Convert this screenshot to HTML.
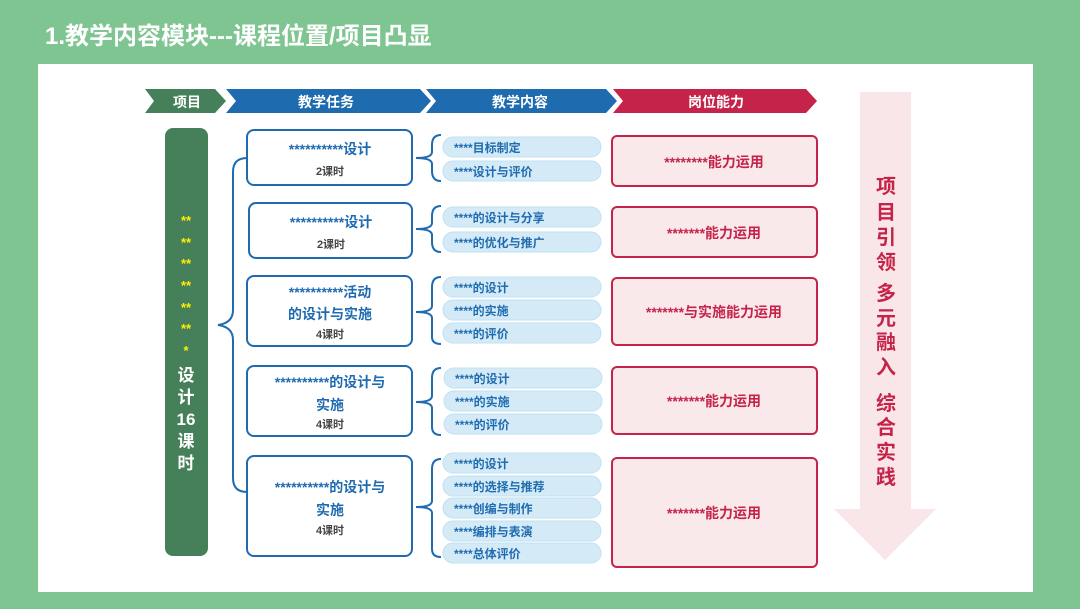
<!DOCTYPE html>
<html><head><meta charset="utf-8"><style>
html,body{margin:0;padding:0;width:1080px;height:609px;overflow:hidden;background:#7ec592}
svg text{font-family:"Liberation Sans","Noto Sans CJK SC",sans-serif;font-weight:bold}
</style></head><body>
<svg width="1080" height="609" viewBox="0 0 1080 609" xmlns="http://www.w3.org/2000/svg">
<rect width="1080" height="609" fill="#7ec592"/>
<text x="45" y="44" font-size="24" fill="#fff">1.教学内容模块---课程位置/项目凸显</text>
<rect x="38" y="64" width="995" height="528" fill="#fff"/>

<!-- header arrows -->
<polygon points="145,89 215,89 226,101 215,113 145,113 154,101" fill="#46805a"/>
<text x="187" y="107" font-size="14" fill="#fff" text-anchor="middle">项目</text>
<polygon points="226,89 420,89 431,101 420,113 226,113 236,101" fill="#1f6bb0"/>
<text x="326" y="107" font-size="14" fill="#fff" text-anchor="middle">教学任务</text>
<polygon points="426,89 606,89 617,101 606,113 426,113 436,101" fill="#1f6bb0"/>
<text x="520" y="107" font-size="14" fill="#fff" text-anchor="middle">教学内容</text>
<polygon points="613,89 806,89 817,101 806,113 613,113 623,101" fill="#c5234a"/>
<text x="716" y="107" font-size="14" fill="#fff" text-anchor="middle">岗位能力</text>

<!-- left bar -->
<rect x="165" y="128" width="43" height="428" rx="8" fill="#46805a"/>
<g font-size="13" fill="#ffee00" text-anchor="middle">
<text x="186" y="225">**</text><text x="186" y="247">**</text><text x="186" y="268">**</text>
<text x="186" y="290">**</text><text x="186" y="312">**</text><text x="186" y="333">**</text>
<text x="186" y="355">*</text>
</g>
<g font-size="17" fill="#fff" text-anchor="middle">
<text x="186" y="381">设</text><text x="186" y="403">计</text><text x="186" y="425">16</text>
<text x="186" y="447">课</text><text x="186" y="469">时</text>
</g>

<!-- left bracket -->
<path d="M247,158 Q233,158 233,172 L233,310 Q233,323 218,325 Q233,327 233,340 L233,478 Q233,492 247,492" fill="none" stroke="#1f6bb0" stroke-width="2"/>

<!-- task boxes -->
<g fill="#fff" stroke="#1f6bb0" stroke-width="2">
<rect x="247" y="130" width="165" height="55" rx="7"/>
<rect x="249" y="203" width="163" height="55" rx="7"/>
<rect x="247" y="276" width="165" height="70" rx="7"/>
<rect x="247" y="366" width="165" height="70" rx="7"/>
<rect x="247" y="456" width="165" height="100" rx="7"/>
</g>
<g text-anchor="middle">
<text x="330" y="154" font-size="14" fill="#1f6bb0">**********设计</text>
<text x="330" y="175" font-size="11" fill="#444">2课时</text>
<text x="331" y="227" font-size="14" fill="#1f6bb0">**********设计</text>
<text x="331" y="248" font-size="11" fill="#444">2课时</text>
<text x="330" y="297" font-size="14" fill="#1f6bb0">**********活动</text>
<text x="330" y="319" font-size="14" fill="#1f6bb0">的设计与实施</text>
<text x="330" y="338" font-size="11" fill="#444">4课时</text>
<text x="330" y="387" font-size="14" fill="#1f6bb0">**********的设计与</text>
<text x="330" y="410" font-size="14" fill="#1f6bb0">实施</text>
<text x="330" y="428" font-size="11" fill="#444">4课时</text>
<text x="330" y="492" font-size="14" fill="#1f6bb0">**********的设计与</text>
<text x="330" y="515" font-size="14" fill="#1f6bb0">实施</text>
<text x="330" y="534" font-size="11" fill="#444">4课时</text>
</g>

<!-- braces -->
<g fill="none" stroke="#1f6bb0" stroke-width="2">
<path d="M441,135 Q432,135 432,145 L432,152 Q432,158 416,158 Q432,158 432,164 L432,171 Q432,181 441,181"/>
<path d="M441,206 Q432,206 432,216 L432,223 Q432,229 416,229 Q432,229 432,235 L432,242 Q432,252 441,252"/>
<path d="M441,277 Q432,277 432,287 L432,306 Q432,312 416,312 Q432,312 432,318 L432,337 Q432,344 441,344"/>
<path d="M441,368 Q432,368 432,378 L432,396 Q432,402 416,402 Q432,402 432,408 L432,427 Q432,435 441,435"/>
<path d="M441,459 Q432,459 432,469 L432,501 Q432,507 416,507 Q432,507 432,513 L432,549 Q432,557 441,557"/>
</g>

<!-- pills -->
<g fill="#d4ebf7" stroke="#bfe0f3" stroke-width="1">
<rect x="443" y="137" width="158" height="20" rx="10"/>
<rect x="443" y="161" width="158" height="20" rx="10"/>
<rect x="443" y="207" width="158" height="20" rx="10"/>
<rect x="443" y="232" width="158" height="20" rx="10"/>
<rect x="443" y="277" width="158" height="20" rx="10"/>
<rect x="443" y="300" width="158" height="20" rx="10"/>
<rect x="443" y="323" width="158" height="20" rx="10"/>
<rect x="444" y="368" width="158" height="20" rx="10"/>
<rect x="444" y="391" width="158" height="20" rx="10"/>
<rect x="444" y="414" width="158" height="20" rx="10"/>
<rect x="443" y="453" width="158" height="20" rx="10"/>
<rect x="443" y="476" width="158" height="20" rx="10"/>
<rect x="443" y="498" width="158" height="20" rx="10"/>
<rect x="443" y="521" width="158" height="20" rx="10"/>
<rect x="443" y="543" width="158" height="20" rx="10"/>
</g>
<g font-size="12" fill="#1f6bb0">
<text x="454" y="152">****目标制定</text>
<text x="454" y="176">****设计与评价</text>
<text x="454" y="222">****的设计与分享</text>
<text x="454" y="247">****的优化与推广</text>
<text x="454" y="292">****的设计</text>
<text x="454" y="315">****的实施</text>
<text x="454" y="338">****的评价</text>
<text x="455" y="383">****的设计</text>
<text x="455" y="406">****的实施</text>
<text x="455" y="429">****的评价</text>
<text x="454" y="468">****的设计</text>
<text x="454" y="491">****的选择与推荐</text>
<text x="454" y="513">****创编与制作</text>
<text x="454" y="536">****编排与表演</text>
<text x="454" y="558">****总体评价</text>
</g>

<!-- red boxes -->
<g fill="#f9e9ea" stroke="#c5234a" stroke-width="2">
<rect x="612" y="136" width="205" height="50" rx="5"/>
<rect x="612" y="207" width="205" height="50" rx="5"/>
<rect x="612" y="278" width="205" height="67" rx="5"/>
<rect x="612" y="367" width="205" height="67" rx="5"/>
<rect x="612" y="458" width="205" height="109" rx="5"/>
</g>
<g font-size="14" fill="#c5234a" text-anchor="middle">
<text x="714" y="167">********能力运用</text>
<text x="714" y="238">*******能力运用</text>
<text x="714" y="317">*******与实施能力运用</text>
<text x="714" y="406">*******能力运用</text>
<text x="714" y="518">*******能力运用</text>
</g>

<!-- big arrow -->
<polygon points="860,92 911,92 911,509 936,509 885,560 834,509 860,509" fill="#f9e6e8"/>
<g font-size="20" fill="#c5234a" text-anchor="middle">
<text x="886" y="193">项</text><text x="886" y="219">目</text><text x="886" y="244">引</text><text x="886" y="269">领</text>
<text x="886" y="300">多</text><text x="886" y="325">元</text><text x="886" y="349">融</text><text x="886" y="374">入</text>
<text x="886" y="410">综</text><text x="886" y="434">合</text><text x="886" y="459">实</text><text x="886" y="484">践</text>
</g>
</svg>
</body></html>
